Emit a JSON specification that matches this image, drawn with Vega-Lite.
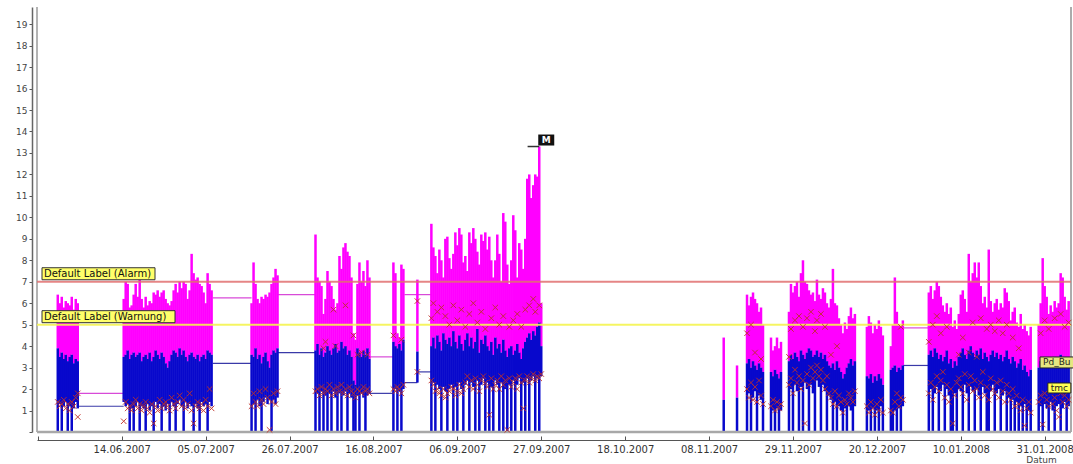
{
  "$schema": "https://vega.github.io/schema/vega-lite/v6.json",
  "width": 1034,
  "height": 425,
  "autosize": {"type": "none"},
  "padding": {"left": 37, "top": 7, "right": 2, "bottom": 32},
  "background": "white",
  "config": {
    "view": {"stroke": null},
    "font": "DejaVu Sans",
    "axisY": {"tickCount": 20, "labelOverlap": false, "values": [0,1,2,3,4,5,6,7,8,9,10,11,12,13,14,15,16,17,18,19]}
  },
  "data": {"values": [{}]},
  "datasets": {
    "s": [
      {"t":"2007-05-29T00:00","h":6.4,"a":3.9,"l":0,"m":1.4},
      {"t":"2007-05-29T12:00","h":6.0,"a":3.5,"l":1.3,"m":1.2},
      {"t":"2007-05-30T00:00","h":6.3,"a":3.7,"l":0,"m":1.3},
      {"t":"2007-05-30T12:00","h":5.8,"a":3.4,"l":1.2,"m":1.5},
      {"t":"2007-05-31T00:00","h":6.1,"a":3.6,"l":1.4,"m":1.1},
      {"t":"2007-05-31T12:00","h":6.0,"a":3.3,"l":0,"m":1.3},
      {"t":"2007-06-01T00:00","h":5.9,"a":3.5,"l":1.2,"m":1.0},
      {"t":"2007-06-01T12:00","h":6.3,"a":3.6,"l":0,"m":1.4},
      {"t":"2007-06-02T00:00","h":5.7,"a":3.2,"l":1.1,"m":1.2},
      {"t":"2007-06-02T12:00","h":6.2,"a":3.4,"l":1.4,"m":1.6},
      {"t":"2007-06-03T00:00","h":6.0,"a":3.3,"l":1.1,"m":0.7,"k":1.8},
      {"t":"2007-06-14T12:00","h":6.2,"a":3.5,"l":1.4,"m":0.5},
      {"t":"2007-06-15T00:00","h":7.0,"a":3.6,"l":1.2,"m":1.4},
      {"t":"2007-06-15T12:00","h":6.9,"a":3.8,"l":1.3,"m":1.1},
      {"t":"2007-06-16T00:00","h":5.8,"a":3.4,"l":0,"m":1.2},
      {"t":"2007-06-16T12:00","h":5.9,"a":3.6,"l":1.1,"m":1.0},
      {"t":"2007-06-17T00:00","h":6.4,"a":3.7,"l":0,"m":1.3},
      {"t":"2007-06-17T12:00","h":6.9,"a":3.5,"l":1.2,"m":1.5},
      {"t":"2007-06-18T00:00","h":6.3,"a":3.6,"l":1.4,"m":1.1},
      {"t":"2007-06-18T12:00","h":7.1,"a":3.7,"l":0,"m":1.3},
      {"t":"2007-06-19T00:00","h":6.2,"a":3.3,"l":1.2,"m":1.0},
      {"t":"2007-06-19T12:00","h":5.8,"a":3.5,"l":1.1,"m":1.2},
      {"t":"2007-06-20T00:00","h":6.3,"a":3.6,"l":0,"m":1.4},
      {"t":"2007-06-20T12:00","h":5.9,"a":3.4,"l":1.3,"m":1.1},
      {"t":"2007-06-21T00:00","h":6.1,"a":3.7,"l":1.0,"m":0.9},
      {"t":"2007-06-21T12:00","h":6.0,"a":3.3,"l":1.2,"m":1.3},
      {"t":"2007-06-22T00:00","h":6.5,"a":3.5,"l":0,"m":0.4},
      {"t":"2007-06-22T12:00","h":6.4,"a":3.8,"l":1.4,"m":1.2},
      {"t":"2007-06-23T00:00","h":6.6,"a":3.6,"l":1.1,"m":1.0},
      {"t":"2007-06-23T12:00","h":6.3,"a":3.4,"l":1.3,"m":1.5},
      {"t":"2007-06-24T00:00","h":6.5,"a":3.7,"l":0,"m":1.1},
      {"t":"2007-06-24T12:00","h":6.6,"a":3.5,"l":1.2,"m":1.3},
      {"t":"2007-06-25T00:00","h":6.2,"a":3.2,"l":1.0,"m":1.4},
      {"t":"2007-06-25T12:00","h":6.0,"a":3.0,"l":1.3,"m":1.2},
      {"t":"2007-06-26T00:00","h":5.9,"a":3.3,"l":0,"m":1.0},
      {"t":"2007-06-26T12:00","h":6.1,"a":3.6,"l":1.4,"m":1.6},
      {"t":"2007-06-27T00:00","h":6.6,"a":3.8,"l":1.2,"m":1.3},
      {"t":"2007-06-27T12:00","h":6.9,"a":3.7,"l":0,"m":1.1},
      {"t":"2007-06-28T00:00","h":6.5,"a":3.5,"l":1.3,"m":1.4},
      {"t":"2007-06-28T12:00","h":7.0,"a":3.9,"l":1.5,"m":1.7},
      {"t":"2007-06-29T00:00","h":6.7,"a":3.6,"l":1.2,"m":1.2},
      {"t":"2007-06-29T12:00","h":7.0,"a":3.8,"l":0,"m":1.5},
      {"t":"2007-06-30T00:00","h":6.9,"a":3.5,"l":1.4,"m":1.1},
      {"t":"2007-06-30T12:00","h":6.2,"a":3.3,"l":1.1,"m":1.3},
      {"t":"2007-07-01T00:00","h":6.6,"a":3.6,"l":1.3,"m":1.8},
      {"t":"2007-07-01T12:00","h":8.3,"a":3.7,"l":1.2,"m":1.0},
      {"t":"2007-07-02T00:00","h":7.4,"a":3.5,"l":0,"m":0.4},
      {"t":"2007-07-02T12:00","h":7.1,"a":3.4,"l":1.3,"m":1.2},
      {"t":"2007-07-03T00:00","h":7.2,"a":3.6,"l":1.1,"m":1.4},
      {"t":"2007-07-03T12:00","h":6.9,"a":3.3,"l":0,"m":1.1},
      {"t":"2007-07-04T00:00","h":6.8,"a":3.5,"l":1.4,"m":1.3},
      {"t":"2007-07-04T12:00","h":6.5,"a":3.6,"l":1.2,"m":1.0},
      {"t":"2007-07-05T00:00","h":6.0,"a":3.4,"l":1.3,"m":1.5},
      {"t":"2007-07-05T12:00","h":7.4,"a":3.8,"l":0,"m":1.2},
      {"t":"2007-07-06T00:00","h":6.9,"a":3.7,"l":1.4,"m":2.0},
      {"t":"2007-07-06T12:00","h":6.6,"a":3.6,"l":1.2,"m":1.1},
      {"t":"2007-07-16T12:00","h":6.0,"a":3.6,"l":0,"m":1.2},
      {"t":"2007-07-17T00:00","h":7.9,"a":3.5,"l":1.3,"m":1.8},
      {"t":"2007-07-17T12:00","h":6.9,"a":3.9,"l":0,"m":1.4},
      {"t":"2007-07-18T00:00","h":6.2,"a":3.4,"l":1.5,"m":1.2},
      {"t":"2007-07-18T12:00","h":6.0,"a":3.6,"l":1.2,"m":1.9},
      {"t":"2007-07-19T00:00","h":6.3,"a":3.2,"l":0,"m":1.5},
      {"t":"2007-07-19T12:00","h":6.2,"a":3.5,"l":1.4,"m":1.3},
      {"t":"2007-07-20T00:00","h":6.4,"a":3.7,"l":1.6,"m":2.0},
      {"t":"2007-07-20T12:00","h":6.3,"a":3.3,"l":1.3,"m":1.6},
      {"t":"2007-07-21T00:00","h":6.5,"a":3.0,"l":1.5,"m":0.1},
      {"t":"2007-07-21T12:00","h":6.9,"a":3.6,"l":0,"m":1.4},
      {"t":"2007-07-22T00:00","h":7.2,"a":3.8,"l":1.5,"m":1.8},
      {"t":"2007-07-22T12:00","h":7.6,"a":3.7,"l":1.3,"m":1.3},
      {"t":"2007-07-23T00:00","h":7.3,"a":3.9,"l":1.6,"m":1.9},
      {"t":"2007-08-01T12:00","h":9.2,"a":3.8,"l":0,"m":1.9},
      {"t":"2007-08-02T00:00","h":7.2,"a":4.1,"l":1.8,"m":2.0},
      {"t":"2007-08-02T12:00","h":7.0,"a":3.6,"l":0,"m":1.7},
      {"t":"2007-08-03T00:00","h":6.8,"a":3.9,"l":1.9,"m":2.1},
      {"t":"2007-08-03T12:00","h":5.5,"a":3.5,"l":0,"m":1.8,"k":3.9},
      {"t":"2007-08-04T00:00","h":6.2,"a":3.7,"l":1.7,"m":2.0,"k":4.2},
      {"t":"2007-08-04T12:00","h":7.5,"a":4.0,"l":0,"m":1.9},
      {"t":"2007-08-05T00:00","h":7.0,"a":3.8,"l":1.8,"m":2.2},
      {"t":"2007-08-05T12:00","h":6.8,"a":3.6,"l":0,"m":1.7},
      {"t":"2007-08-06T00:00","h":6.2,"a":3.9,"l":1.9,"m":2.0,"k":5.7},
      {"t":"2007-08-06T12:00","h":5.7,"a":4.1,"l":1.6,"m":1.8,"k":4.0},
      {"t":"2007-08-07T00:00","h":6.0,"a":3.7,"l":0,"m":2.1},
      {"t":"2007-08-07T12:00","h":8.2,"a":3.8,"l":1.8,"m":1.9},
      {"t":"2007-08-08T00:00","h":7.6,"a":4.2,"l":0,"m":2.2},
      {"t":"2007-08-08T12:00","h":8.6,"a":3.9,"l":1.7,"m":1.8},
      {"t":"2007-08-09T00:00","h":8.8,"a":4.0,"l":1.9,"m":2.0,"k":5.9},
      {"t":"2007-08-09T12:00","h":8.4,"a":3.6,"l":0,"m":1.7},
      {"t":"2007-08-10T00:00","h":8.2,"a":3.8,"l":1.8,"m":2.1},
      {"t":"2007-08-10T12:00","h":7.2,"a":3.5,"l":1.6,"m":1.9},
      {"t":"2007-08-11T00:00","h":4.6,"a":2.4,"l":0,"m":1.8,"k":4.5},
      {"t":"2007-08-11T12:00","h":4.3,"a":2.2,"l":0,"m":1.6},
      {"t":"2007-08-12T00:00","h":6.9,"a":3.9,"l":1.7,"m":2.0,"k":3.6},
      {"t":"2007-08-12T12:00","h":7.9,"a":3.7,"l":0,"m":1.9},
      {"t":"2007-08-13T00:00","h":7.0,"a":3.5,"l":1.8,"m":1.8,"k":3.7},
      {"t":"2007-08-13T12:00","h":7.5,"a":3.8,"l":1.6,"m":2.1},
      {"t":"2007-08-14T00:00","h":6.8,"a":3.6,"l":0,"m":1.9},
      {"t":"2007-08-14T12:00","h":8.0,"a":3.9,"l":1.7,"m":2.0,"k":3.6},
      {"t":"2007-08-15T00:00","h":7.2,"a":3.4,"l":1.8,"m":1.8},
      {"t":"2007-08-21T00:00","h":7.9,"a":4.2,"l":0,"m":2.0,"k":4.5},
      {"t":"2007-08-21T12:00","h":7.4,"a":4.0,"l":2.0,"m":1.9},
      {"t":"2007-08-22T00:00","h":4.6,"a":3.9,"l":0,"m":2.1},
      {"t":"2007-08-22T12:00","h":4.4,"a":4.1,"l":1.9,"m":2.0},
      {"t":"2007-08-23T00:00","h":7.8,"a":3.8,"l":0,"m":1.8,"k":4.3},
      {"t":"2007-08-23T12:00","h":7.6,"a":4.3,"l":2.0,"m":2.2},
      {"t":"2007-08-27T00:00","h":7.1,"a":3.75,"l":2.3,"m":2.8,"k":6.1},
      {"t":"2007-08-30T12:00","h":9.7,"a":4.0,"l":0,"m":2.4,"k":5.3},
      {"t":"2007-08-31T00:00","h":8.6,"a":4.4,"l":2.3,"m":2.2,"k":6.0},
      {"t":"2007-08-31T12:00","h":8.2,"a":3.9,"l":0,"m":1.9},
      {"t":"2007-09-01T00:00","h":7.4,"a":4.5,"l":2.2,"m":2.0,"k":5.6},
      {"t":"2007-09-01T12:00","h":8.5,"a":4.2,"l":2.0,"m":1.8},
      {"t":"2007-09-02T00:00","h":8.0,"a":3.8,"l":0,"m":1.7,"k":5.8},
      {"t":"2007-09-02T12:00","h":7.2,"a":4.6,"l":2.1,"m":2.0},
      {"t":"2007-09-03T00:00","h":9.0,"a":4.3,"l":1.9,"m":1.6,"k":5.4},
      {"t":"2007-09-03T12:00","h":9.1,"a":4.1,"l":0,"m":1.8},
      {"t":"2007-09-04T00:00","h":8.1,"a":4.4,"l":2.0,"m":1.9,"k":5.0},
      {"t":"2007-09-04T12:00","h":7.6,"a":4.0,"l":2.2,"m":2.1},
      {"t":"2007-09-05T00:00","h":8.3,"a":4.7,"l":0,"m":2.0,"k":5.9},
      {"t":"2007-09-05T12:00","h":9.3,"a":4.2,"l":2.1,"m":1.7},
      {"t":"2007-09-06T00:00","h":8.7,"a":3.9,"l":0,"m":1.9,"k":5.2},
      {"t":"2007-09-06T12:00","h":9.5,"a":4.5,"l":2.3,"m":2.2},
      {"t":"2007-09-07T00:00","h":9.2,"a":4.1,"l":2.0,"m":1.8,"k":5.7},
      {"t":"2007-09-07T12:00","h":7.9,"a":3.8,"l":0,"m":2.0},
      {"t":"2007-09-08T00:00","h":8.2,"a":4.3,"l":2.2,"m":2.3,"k":4.9},
      {"t":"2007-09-08T12:00","h":7.5,"a":4.6,"l":2.4,"m":2.6},
      {"t":"2007-09-09T00:00","h":9.3,"a":4.0,"l":0,"m":2.1,"k":5.5},
      {"t":"2007-09-09T12:00","h":8.8,"a":4.4,"l":2.3,"m":2.4},
      {"t":"2007-09-10T00:00","h":9.5,"a":3.9,"l":2.1,"m":2.0,"k":6.0},
      {"t":"2007-09-10T12:00","h":9.0,"a":4.2,"l":0,"m":2.5},
      {"t":"2007-09-11T00:00","h":8.4,"a":4.8,"l":2.4,"m":2.2,"k":5.1},
      {"t":"2007-09-11T12:00","h":7.8,"a":3.7,"l":0,"m":1.9},
      {"t":"2007-09-12T00:00","h":9.2,"a":4.3,"l":2.2,"m":2.4,"k":5.6},
      {"t":"2007-09-12T12:00","h":8.9,"a":4.1,"l":2.5,"m":2.6},
      {"t":"2007-09-13T00:00","h":9.3,"a":4.5,"l":0,"m":2.3,"k":4.8},
      {"t":"2007-09-13T12:00","h":8.5,"a":4.0,"l":2.3,"m":2.1},
      {"t":"2007-09-14T00:00","h":9.1,"a":3.8,"l":0,"m":0.8},
      {"t":"2007-09-14T12:00","h":8.0,"a":4.2,"l":2.1,"m":2.5,"k":5.3},
      {"t":"2007-09-15T00:00","h":7.2,"a":3.6,"l":0,"m":2.0},
      {"t":"2007-09-15T12:00","h":8.0,"a":4.4,"l":2.4,"m":2.2,"k":5.8},
      {"t":"2007-09-16T00:00","h":9.2,"a":3.9,"l":2.2,"m":2.4},
      {"t":"2007-09-16T12:00","h":8.3,"a":4.1,"l":0,"m":2.0,"k":5.0},
      {"t":"2007-09-17T00:00","h":7.0,"a":3.7,"l":2.3,"m":2.6},
      {"t":"2007-09-17T12:00","h":10.2,"a":4.3,"l":0,"m":2.2,"k":5.4},
      {"t":"2007-09-18T00:00","h":9.8,"a":3.8,"l":2.0,"m":2.4},
      {"t":"2007-09-18T12:00","h":7.8,"a":3.5,"l":0,"m":0.1},
      {"t":"2007-09-19T00:00","h":6.9,"a":3.9,"l":2.2,"m":2.5,"k":4.9},
      {"t":"2007-09-19T12:00","h":8.0,"a":4.0,"l":0,"m":2.1},
      {"t":"2007-09-20T00:00","h":10.1,"a":3.6,"l":2.4,"m":2.3,"k":5.2},
      {"t":"2007-09-20T12:00","h":9.4,"a":3.8,"l":0,"m":2.5},
      {"t":"2007-09-21T00:00","h":7.2,"a":4.1,"l":2.2,"m":2.0,"k":5.5},
      {"t":"2007-09-21T12:00","h":8.8,"a":3.7,"l":2.5,"m":2.6},
      {"t":"2007-09-22T00:00","h":8.5,"a":3.4,"l":0,"m":2.3,"k":4.9},
      {"t":"2007-09-22T12:00","h":7.6,"a":3.9,"l":2.3,"m":1.1},
      {"t":"2007-09-23T00:00","h":9.0,"a":4.2,"l":0,"m":2.4,"k":5.7},
      {"t":"2007-09-23T12:00","h":11.8,"a":4.4,"l":2.5,"m":2.6},
      {"t":"2007-09-24T00:00","h":12.0,"a":4.6,"l":0,"m":2.3,"k":5.9},
      {"t":"2007-09-24T12:00","h":10.9,"a":4.3,"l":2.4,"m":2.5},
      {"t":"2007-09-25T00:00","h":11.5,"a":4.7,"l":2.6,"m":2.7,"k":6.2},
      {"t":"2007-09-25T12:00","h":12.0,"a":4.5,"l":0,"m":2.4,"k":5.6},
      {"t":"2007-09-26T00:00","h":11.9,"a":4.9,"l":2.5,"m":2.6},
      {"t":"2007-09-26T12:00","h":13.3,"a":5.1,"l":0,"m":2.5,"k":5.9},
      {"t":"2007-09-27T00:00","h":6.0,"a":4.0,"l":2.6,"m":2.7},
      {"t":"2007-11-11T16:00","h":4.4,"a":1.5,"l":0},
      {"t":"2007-11-15T00:00","h":3.1,"a":1.6,"l":0},
      {"t":"2007-11-17T12:00","h":6.4,"a":3.2,"l":0,"m":2.0,"k":4.6},
      {"t":"2007-11-18T00:00","h":5.9,"a":3.4,"l":1.8,"m":1.6},
      {"t":"2007-11-18T12:00","h":6.3,"a":3.0,"l":0,"m":2.3,"k":5.0},
      {"t":"2007-11-19T00:00","h":6.5,"a":3.3,"l":1.6,"m":1.5},
      {"t":"2007-11-19T12:00","h":6.2,"a":3.1,"l":1.9,"m":2.1,"k":3.7},
      {"t":"2007-11-20T00:00","h":6.0,"a":2.9,"l":0,"m":1.4},
      {"t":"2007-11-20T12:00","h":5.6,"a":3.2,"l":1.7,"m":2.4},
      {"t":"2007-11-21T00:00","h":5.8,"a":3.0,"l":1.5,"m":1.7,"k":3.4},
      {"t":"2007-11-21T12:00","h":5.0,"a":2.8,"l":0,"m":1.3},
      {"t":"2007-11-23T12:00","h":4.4,"a":2.8,"l":0,"m":1.2},
      {"t":"2007-11-24T00:00","h":3.8,"a":2.6,"l":1.0,"m":1.5},
      {"t":"2007-11-24T12:00","h":4.0,"a":2.9,"l":0,"m":1.0},
      {"t":"2007-11-25T00:00","h":4.4,"a":2.7,"l":1.1,"m":1.4},
      {"t":"2007-11-25T12:00","h":3.9,"a":2.5,"l":0,"m":1.1},
      {"t":"2007-11-26T00:00","h":4.2,"a":2.8,"l":1.0,"m":1.3},
      {"t":"2007-11-28T00:00","h":5.6,"a":3.3,"l":0,"m":2.2,"k":3.5},
      {"t":"2007-11-28T12:00","h":6.9,"a":3.6,"l":2.0,"m":2.5,"k":4.8},
      {"t":"2007-11-29T00:00","h":6.5,"a":3.4,"l":0,"m":1.8},
      {"t":"2007-11-29T12:00","h":6.8,"a":3.7,"l":2.2,"m":2.9,"k":5.2},
      {"t":"2007-11-30T00:00","h":7.0,"a":3.5,"l":1.9,"m":2.3},
      {"t":"2007-11-30T12:00","h":6.3,"a":3.3,"l":0,"m":2.6,"k":5.4},
      {"t":"2007-12-01T00:00","h":7.4,"a":3.8,"l":2.1,"m":2.0},
      {"t":"2007-12-01T12:00","h":8.0,"a":3.6,"l":0,"m":2.4,"k":4.9},
      {"t":"2007-12-02T00:00","h":7.0,"a":3.4,"l":2.3,"m":0.4},
      {"t":"2007-12-02T12:00","h":6.9,"a":3.7,"l":2.0,"m":2.7,"k":5.3},
      {"t":"2007-12-03T00:00","h":6.6,"a":3.9,"l":0,"m":2.2},
      {"t":"2007-12-03T12:00","h":6.4,"a":3.8,"l":2.2,"m":3.0,"k":5.6},
      {"t":"2007-12-04T00:00","h":6.5,"a":3.5,"l":1.8,"m":2.5},
      {"t":"2007-12-04T12:00","h":6.1,"a":3.6,"l":0,"m":2.8,"k":4.7},
      {"t":"2007-12-05T00:00","h":7.1,"a":3.8,"l":2.4,"m":3.1,"k":5.2},
      {"t":"2007-12-05T12:00","h":6.4,"a":3.5,"l":2.1,"m":2.6},
      {"t":"2007-12-06T00:00","h":6.2,"a":3.7,"l":0,"m":2.9,"k":5.5},
      {"t":"2007-12-06T12:00","h":6.7,"a":3.4,"l":2.2,"m":2.4},
      {"t":"2007-12-07T00:00","h":6.5,"a":3.6,"l":1.9,"m":2.0,"k":4.9},
      {"t":"2007-12-07T12:00","h":6.0,"a":3.3,"l":0,"m":2.6},
      {"t":"2007-12-08T00:00","h":5.8,"a":3.1,"l":1.7,"m":1.8},
      {"t":"2007-12-08T12:00","h":6.2,"a":3.0,"l":1.5,"m":1.6,"k":3.6},
      {"t":"2007-12-09T00:00","h":7.6,"a":3.2,"l":0,"m":1.3},
      {"t":"2007-12-09T12:00","h":6.0,"a":2.9,"l":1.4,"m":1.9},
      {"t":"2007-12-10T00:00","h":5.9,"a":3.3,"l":0,"m":1.2,"k":4.0},
      {"t":"2007-12-10T12:00","h":5.3,"a":3.0,"l":1.2,"m":1.7},
      {"t":"2007-12-11T00:00","h":5.0,"a":2.8,"l":1.0,"m":1.4},
      {"t":"2007-12-11T12:00","h":4.6,"a":2.5,"l":0,"m":0.9},
      {"t":"2007-12-12T00:00","h":5.1,"a":2.7,"l":1.1,"m":1.5},
      {"t":"2007-12-12T12:00","h":4.8,"a":3.0,"l":0,"m":1.3},
      {"t":"2007-12-13T00:00","h":5.4,"a":3.2,"l":1.2,"m":1.8},
      {"t":"2007-12-13T12:00","h":5.8,"a":3.4,"l":1.0,"m":1.6},
      {"t":"2007-12-14T00:00","h":5.3,"a":3.1,"l":0,"m":1.4},
      {"t":"2007-12-14T12:00","h":5.5,"a":3.3,"l":1.2,"m":1.9},
      {"t":"2007-12-17T12:00","h":4.9,"a":2.6,"l":0,"m":1.2},
      {"t":"2007-12-18T00:00","h":5.4,"a":2.5,"l":1.0,"m":0.9},
      {"t":"2007-12-18T12:00","h":5.1,"a":2.7,"l":0,"m":1.4},
      {"t":"2007-12-19T00:00","h":4.6,"a":2.3,"l":1.1,"m":1.1},
      {"t":"2007-12-19T12:00","h":5.0,"a":2.6,"l":0,"m":0.8},
      {"t":"2007-12-20T00:00","h":4.8,"a":2.4,"l":1.0,"m":1.3},
      {"t":"2007-12-20T12:00","h":5.2,"a":2.7,"l":0,"m":1.0},
      {"t":"2007-12-21T00:00","h":4.9,"a":2.5,"l":1.2,"m":1.5},
      {"t":"2007-12-21T12:00","h":4.5,"a":2.2,"l":0,"m":0.9},
      {"t":"2007-12-23T12:00","h":4.0,"a":2.9,"l":0,"m":1.0},
      {"t":"2007-12-24T00:00","h":5.0,"a":3.0,"l":0,"m":0.9},
      {"t":"2007-12-24T12:00","h":7.2,"a":3.1,"l":1.0,"m":1.4},
      {"t":"2007-12-25T00:00","h":5.6,"a":2.8,"l":0,"m":1.8},
      {"t":"2007-12-25T12:00","h":5.0,"a":3.0,"l":1.1,"m":1.2},
      {"t":"2007-12-26T00:00","h":4.9,"a":2.9,"l":0,"m":1.6,"k":4.9},
      {"t":"2007-12-26T12:00","h":5.2,"a":3.1,"l":1.2,"m":1.5},
      {"t":"2008-01-02T00:00","h":6.5,"a":3.6,"l":0,"m":1.8,"k":4.2},
      {"t":"2008-01-02T12:00","h":6.8,"a":3.8,"l":2.0,"m":2.3},
      {"t":"2008-01-03T00:00","h":6.2,"a":3.5,"l":0,"m":1.5,"k":5.0},
      {"t":"2008-01-03T12:00","h":6.6,"a":3.9,"l":1.8,"m":2.1},
      {"t":"2008-01-04T00:00","h":7.0,"a":3.7,"l":2.1,"m":2.6,"k":5.4},
      {"t":"2008-01-04T12:00","h":6.8,"a":3.4,"l":0,"m":1.9},
      {"t":"2008-01-05T00:00","h":6.3,"a":3.6,"l":1.9,"m":2.4,"k":4.6},
      {"t":"2008-01-05T12:00","h":5.9,"a":3.3,"l":2.2,"m":2.8},
      {"t":"2008-01-06T00:00","h":5.6,"a":3.5,"l":0,"m":1.6},
      {"t":"2008-01-06T12:00","h":6.0,"a":3.8,"l":2.0,"m":2.2,"k":4.9},
      {"t":"2008-01-07T00:00","h":5.5,"a":3.2,"l":1.7,"m":1.4},
      {"t":"2008-01-07T12:00","h":5.8,"a":3.4,"l":0,"m":2.0},
      {"t":"2008-01-08T00:00","h":4.9,"a":3.0,"l":0,"m":0.4},
      {"t":"2008-01-08T12:00","h":5.2,"a":3.3,"l":1.8,"m":1.7},
      {"t":"2008-01-09T00:00","h":4.8,"a":3.1,"l":0,"m":2.3},
      {"t":"2008-01-09T12:00","h":5.5,"a":3.5,"l":2.0,"m":2.5,"k":3.6},
      {"t":"2008-01-10T00:00","h":6.4,"a":3.7,"l":1.9,"m":2.1},
      {"t":"2008-01-10T12:00","h":6.6,"a":3.9,"l":0,"m":1.8,"k":4.4},
      {"t":"2008-01-11T00:00","h":6.2,"a":3.6,"l":2.2,"m":2.7},
      {"t":"2008-01-11T12:00","h":5.6,"a":3.4,"l":1.8,"m":1.5},
      {"t":"2008-01-12T00:00","h":8.3,"a":3.8,"l":0,"m":2.2,"k":3.7},
      {"t":"2008-01-12T12:00","h":7.0,"a":4.0,"l":2.1,"m":2.6},
      {"t":"2008-01-13T00:00","h":7.4,"a":3.7,"l":1.9,"m":1.9,"k":5.1},
      {"t":"2008-01-13T12:00","h":7.9,"a":3.5,"l":0,"m":2.4},
      {"t":"2008-01-14T00:00","h":7.2,"a":3.8,"l":2.0,"m":2.0,"k":3.5},
      {"t":"2008-01-14T12:00","h":7.9,"a":3.6,"l":1.7,"m":1.6},
      {"t":"2008-01-15T00:00","h":6.8,"a":3.9,"l":0,"m":2.3,"k":5.3},
      {"t":"2008-01-15T12:00","h":6.0,"a":3.4,"l":2.1,"m":2.8},
      {"t":"2008-01-16T00:00","h":6.3,"a":3.7,"l":1.8,"m":1.7},
      {"t":"2008-01-16T12:00","h":5.8,"a":3.5,"l":0,"m":2.1,"k":4.8},
      {"t":"2008-01-17T00:00","h":8.5,"a":3.3,"l":0,"m":1.5},
      {"t":"2008-01-17T12:00","h":6.1,"a":3.6,"l":1.9,"m":2.5,"k":5.0},
      {"t":"2008-01-18T00:00","h":5.6,"a":3.8,"l":2.2,"m":2.0},
      {"t":"2008-01-18T12:00","h":6.0,"a":3.5,"l":0,"m":1.8,"k":4.7},
      {"t":"2008-01-19T00:00","h":6.2,"a":3.7,"l":1.8,"m":2.3},
      {"t":"2008-01-19T12:00","h":5.7,"a":3.4,"l":2.0,"m":1.6,"k":5.2},
      {"t":"2008-01-20T00:00","h":6.0,"a":3.6,"l":0,"m":2.4},
      {"t":"2008-01-20T12:00","h":5.8,"a":3.3,"l":1.7,"m":1.9,"k":4.6},
      {"t":"2008-01-21T00:00","h":6.7,"a":3.5,"l":1.9,"m":1.4},
      {"t":"2008-01-21T12:00","h":6.5,"a":3.8,"l":0,"m":2.2,"k":5.0},
      {"t":"2008-01-22T00:00","h":6.1,"a":3.4,"l":1.6,"m":1.8},
      {"t":"2008-01-22T12:00","h":5.2,"a":3.2,"l":0,"m":1.5},
      {"t":"2008-01-23T00:00","h":5.6,"a":3.5,"l":1.5,"m":2.0,"k":4.4},
      {"t":"2008-01-23T12:00","h":5.8,"a":3.3,"l":0,"m":1.2},
      {"t":"2008-01-24T00:00","h":5.1,"a":3.0,"l":1.4,"m":1.7},
      {"t":"2008-01-24T12:00","h":4.9,"a":3.2,"l":0,"m":1.3,"k":3.9},
      {"t":"2008-01-25T00:00","h":5.5,"a":3.4,"l":1.2,"m":1.0},
      {"t":"2008-01-25T12:00","h":4.8,"a":2.9,"l":0,"m":1.5},
      {"t":"2008-01-26T00:00","h":5.0,"a":3.1,"l":1.3,"m":0.3},
      {"t":"2008-01-26T12:00","h":4.7,"a":2.8,"l":0,"m":1.1},
      {"t":"2008-01-27T00:00","h":4.5,"a":2.6,"l":1.0,"m":1.4},
      {"t":"2008-01-27T12:00","h":4.9,"a":2.9,"l":0,"m":0.9},
      {"t":"2008-01-29T12:00","h":5.0,"a":3.0,"l":0,"m":1.4},
      {"t":"2008-01-30T00:00","h":6.0,"a":3.3,"l":1.2,"m":1.7,"k":4.6},
      {"t":"2008-01-30T12:00","h":8.1,"a":3.5,"l":0,"m":0.35},
      {"t":"2008-01-31T00:00","h":6.8,"a":3.2,"l":1.3,"m":1.8,"k":5.2},
      {"t":"2008-01-31T12:00","h":6.3,"a":3.4,"l":1.1,"m":1.5},
      {"t":"2008-02-01T00:00","h":5.5,"a":3.1,"l":0,"m":1.2,"k":4.8},
      {"t":"2008-02-01T12:00","h":5.9,"a":3.3,"l":1.4,"m":1.9},
      {"t":"2008-02-02T00:00","h":5.6,"a":3.0,"l":1.0,"m":1.3},
      {"t":"2008-02-02T12:00","h":6.1,"a":3.5,"l":0,"m":1.6,"k":5.3},
      {"t":"2008-02-03T00:00","h":5.8,"a":3.2,"l":1.2,"m":1.0},
      {"t":"2008-02-03T12:00","h":6.0,"a":3.4,"l":1.3,"m":0.7},
      {"t":"2008-02-04T00:00","h":7.4,"a":3.6,"l":0,"m":1.8,"k":5.5},
      {"t":"2008-02-04T12:00","h":7.2,"a":3.3,"l":1.1,"m":1.4},
      {"t":"2008-02-05T00:00","h":6.3,"a":3.5,"l":1.4,"m":1.7,"k":4.9},
      {"t":"2008-02-05T12:00","h":5.7,"a":3.1,"l":0,"m":1.2},
      {"t":"2008-02-06T00:00","h":6.1,"a":3.4,"l":1.2,"m":1.5,"k":5.1}
    ],
    "gaps": [
      {"t0":"2007-06-03T07:00","t1":"2007-06-14T12:00","h":1.8,"a":1.2},
      {"t0":"2007-07-06T19:00","t1":"2007-07-16T12:00","h":6.25,"a":3.2},
      {"t0":"2007-07-23T02:00","t1":"2007-08-01T12:00","h":6.4,"a":3.7},
      {"t0":"2007-08-15T00:00","t1":"2007-08-21T00:00","h":3.5,"a":1.8},
      {"t0":"2007-08-23T18:00","t1":"2007-08-27T00:00","h":6.4,"a":2.3},
      {"t0":"2007-08-27T00:00","t1":"2007-08-30T12:00","h":6.4,"a":2.8},
      {"t0":"2007-12-26T12:00","t1":"2008-01-02T00:00","h":4.85,"a":3.1}
    ],
    "refs": [
      {"lbl":"Default Label (Alarm)","v":7},
      {"lbl":"Default Label (Warnung)","v":5}
    ]
  },
  "layer": [
    {
      "data": {"name": "gaps"},
      "mark": {"type": "rule", "color": "#d84ad8", "strokeWidth": 1.2},
      "encoding": {
        "x": {"field": "t0", "type": "temporal",
          "scale": {"domain": [{"year":2007,"month":5,"date":23,"hours":19,"minutes":12},{"year":2008,"month":2,"date":6,"hours":14}], "nice": false},
          "axis": {
            "values": [
              {"year":2007,"month":5,"date":24},
              {"year":2007,"month":6,"date":14},{"year":2007,"month":7,"date":5},{"year":2007,"month":7,"date":26},
              {"year":2007,"month":8,"date":16},{"year":2007,"month":9,"date":6},{"year":2007,"month":9,"date":27},
              {"year":2007,"month":10,"date":18},{"year":2007,"month":11,"date":8},{"year":2007,"month":11,"date":29},
              {"year":2007,"month":12,"date":20},{"year":2008,"month":1,"date":10},{"year":2008,"month":1,"date":31}
            ],
            "labelExpr": "year(datum.value) == 2007 && month(datum.value) == 4 ? '' : timeFormat(datum.value, '%d.%m.%Y')",
            "labelFont": "DejaVu Sans", "labelFontSize": 10, "labelColor": "#333",
            "labelOverlap": false, "labelFlush": false,
            "tickColor": "#555", "tickSize": -4, "labelPadding": 8,
            "domainColor": "#555", "domainWidth": 1.2, "offset": 8, "grid": false,
            "title": "Datum", "titleFont": "DejaVu Sans", "titleFontSize": 9, "titleFontWeight": "normal",
            "titleColor": "#444", "titleX": 1004, "titleY": 22, "titleAlign": "center", "titleBaseline": "alphabetic"
          }
        },
        "x2": {"field": "t1"},
        "y": {"field": "h", "type": "quantitative",
          "scale": {"domain": [0, 19.8], "nice": false, "zero": false},
          "axis": {
            "values": [0,1,2,3,4,5,6,7,8,9,10,11,12,13,14,15,16,17,18,19],
            "tickCount": 20,
            "labelExpr": "datum.value == 0 ? '' : datum.label",
            "labelOverlap": false,
            "labelFont": "DejaVu Sans", "labelFontSize": 9, "labelColor": "#444",
            "tickSize": 3, "tickColor": "#555", "labelPadding": 2,
            "domainColor": "#666", "domainWidth": 1.5, "offset": 5, "grid": false, "title": null
          }
        }
      }
    },
    {
      "data": {"name": "gaps"},
      "mark": {"type": "rule", "color": "#3a3aa8", "strokeWidth": 1.2},
      "encoding": {
        "x": {"field": "t0", "type": "temporal"},
        "x2": {"field": "t1"},
        "y": {"field": "a", "type": "quantitative"}
      }
    },
    {
      "data": {"name": "s"},
      "mark": {"type": "rule", "color": "#ff00ff", "strokeWidth": 2.5},
      "encoding": {
        "x": {"field": "t", "type": "temporal"},
        "y": {"field": "a", "type": "quantitative"},
        "y2": {"field": "h"}
      }
    },
    {
      "data": {"name": "s"},
      "mark": {"type": "rule", "color": "#0808cc", "strokeWidth": 2.5},
      "encoding": {
        "x": {"field": "t", "type": "temporal"},
        "y": {"field": "l", "type": "quantitative"},
        "y2": {"field": "a"}
      }
    },
    {
      "mark": {"type": "rule", "color": "#808080", "strokeWidth": 1.2},
      "encoding": {"x": {"datum": {"year":2007,"month":5,"date":23,"hours":19,"minutes":12}, "type": "temporal"}}
    },
    {
      "mark": {"type": "rule", "color": "#909090", "strokeWidth": 1.5},
      "encoding": {"x": {"datum": {"year":2008,"month":2,"date":6,"hours":14}, "type": "temporal"}}
    },
    {
      "mark": {"type": "rule", "color": "#a8a8a8", "strokeWidth": 2.5},
      "encoding": {"y": {"datum": 0, "type": "quantitative"}}
    },
    {
      "mark": {"type": "rule", "color": "#e07070", "strokeWidth": 1.8, "opacity": 0.85},
      "encoding": {"y": {"datum": 7, "type": "quantitative"}}
    },
    {
      "mark": {"type": "rule", "color": "#f4f450", "strokeWidth": 2, "opacity": 0.9},
      "encoding": {"y": {"datum": 5, "type": "quantitative"}}
    },
    {
      "data": {"name": "s"},
      "transform": [{"filter": {"field": "m", "valid": true}}],
      "mark": {"type": "point", "shape": "M-1,-1L1,1M-1,1L1,-1", "filled": false, "stroke": "#c03028", "strokeWidth": 1, "size": 30, "opacity": 0.9},
      "encoding": {
        "x": {"field": "t", "type": "temporal"},
        "y": {"field": "m", "type": "quantitative"}
      }
    },
    {
      "data": {"name": "s"},
      "transform": [{"filter": {"field": "k", "valid": true}}],
      "mark": {"type": "point", "shape": "M-1,-1L1,1M-1,1L1,-1", "filled": false, "stroke": "#c03028", "strokeWidth": 1, "size": 30, "opacity": 0.9},
      "encoding": {
        "x": {"field": "t", "type": "temporal"},
        "y": {"field": "k", "type": "quantitative"}
      }
    },
    {
      "mark": {"type": "rule", "color": "#333333", "strokeWidth": 1.5},
      "encoding": {
        "x": {"datum": {"year":2007,"month":9,"date":23,"hours":14}, "type": "temporal"},
        "x2": {"datum": {"year":2007,"month":9,"date":26,"hours":12}},
        "y": {"datum": 13.3, "type": "quantitative"}
      }
    },
    {
      "mark": {"type": "rect", "color": "#111111", "xOffset": -1, "x2Offset": 15, "yOffset": -12, "y2Offset": -1},
      "encoding": {
        "x": {"datum": {"year":2007,"month":9,"date":26,"hours":12}, "type": "temporal"},
        "x2": {"datum": {"year":2007,"month":9,"date":26,"hours":12}},
        "y": {"datum": 13.3, "type": "quantitative"},
        "y2": {"datum": 13.3}
      }
    },
    {
      "mark": {"type": "text", "text": "M", "color": "white", "fontWeight": "bold", "fontSize": 9, "align": "center", "baseline": "middle", "xOffset": 7, "yOffset": -6.5},
      "encoding": {
        "x": {"datum": {"year":2007,"month":9,"date":26,"hours":12}, "type": "temporal"},
        "y": {"datum": 13.3, "type": "quantitative"}
      }
    },
    {
      "mark": {"type": "rect", "fill": "#ffff6a", "stroke": "#333333", "strokeWidth": 1, "xOffset": 5, "x2Offset": 118, "yOffset": -14, "y2Offset": -2},
      "encoding": {
        "x": {"datum": {"year":2007,"month":5,"date":23,"hours":19,"minutes":12}, "type": "temporal"},
        "x2": {"datum": {"year":2007,"month":5,"date":23,"hours":19,"minutes":12}},
        "y": {"datum": 7, "type": "quantitative"},
        "y2": {"datum": 7}
      }
    },
    {
      "mark": {"type": "rect", "fill": "#ffff6a", "stroke": "#333333", "strokeWidth": 1, "xOffset": 5, "x2Offset": 138, "yOffset": -14, "y2Offset": -2},
      "encoding": {
        "x": {"datum": {"year":2007,"month":5,"date":23,"hours":19,"minutes":12}, "type": "temporal"},
        "x2": {"datum": {"year":2007,"month":5,"date":23,"hours":19,"minutes":12}},
        "y": {"datum": 5, "type": "quantitative"},
        "y2": {"datum": 5}
      }
    },
    {
      "data": {"name": "refs"},
      "mark": {"type": "text", "align": "left", "baseline": "middle", "fontSize": 10, "font": "DejaVu Sans", "color": "#111", "xOffset": 7, "yOffset": -8},
      "encoding": {
        "x": {"datum": {"year":2007,"month":5,"date":23,"hours":19,"minutes":12}, "type": "temporal"},
        "y": {"field": "v", "type": "quantitative"},
        "text": {"field": "lbl"}
      }
    },
    {
      "mark": {"type": "rect", "fill": "#e6e680", "stroke": "#222222", "strokeWidth": 1, "x2Offset": 40, "yOffset": -5.5, "y2Offset": 5.5},
      "encoding": {
        "x": {"datum": {"year":2008,"month":1,"date":29,"hours":20}, "type": "temporal"},
        "x2": {"datum": {"year":2008,"month":1,"date":29,"hours":20}},
        "y": {"datum": 3.24, "type": "quantitative"},
        "y2": {"datum": 3.24}
      }
    },
    {
      "mark": {"type": "text", "text": "Pd_Bu", "align": "left", "baseline": "middle", "fontSize": 9, "color": "#222", "xOffset": 3},
      "encoding": {
        "x": {"datum": {"year":2008,"month":1,"date":29,"hours":20}, "type": "temporal"},
        "y": {"datum": 3.24, "type": "quantitative"}
      }
    },
    {
      "mark": {"type": "rect", "fill": "#ffff55", "stroke": "#222222", "strokeWidth": 1, "x2Offset": 23, "yOffset": -5, "y2Offset": 5},
      "encoding": {
        "x": {"datum": {"year":2008,"month":1,"date":31,"hours":19}, "type": "temporal"},
        "x2": {"datum": {"year":2008,"month":1,"date":31,"hours":19}},
        "y": {"datum": 2.05, "type": "quantitative"},
        "y2": {"datum": 2.05}
      }
    },
    {
      "mark": {"type": "text", "text": "tmc", "align": "center", "baseline": "middle", "fontSize": 9, "color": "#222", "xOffset": 11.5},
      "encoding": {
        "x": {"datum": {"year":2008,"month":1,"date":31,"hours":19}, "type": "temporal"},
        "y": {"datum": 2.05, "type": "quantitative"}
      }
    }
  ]
}
